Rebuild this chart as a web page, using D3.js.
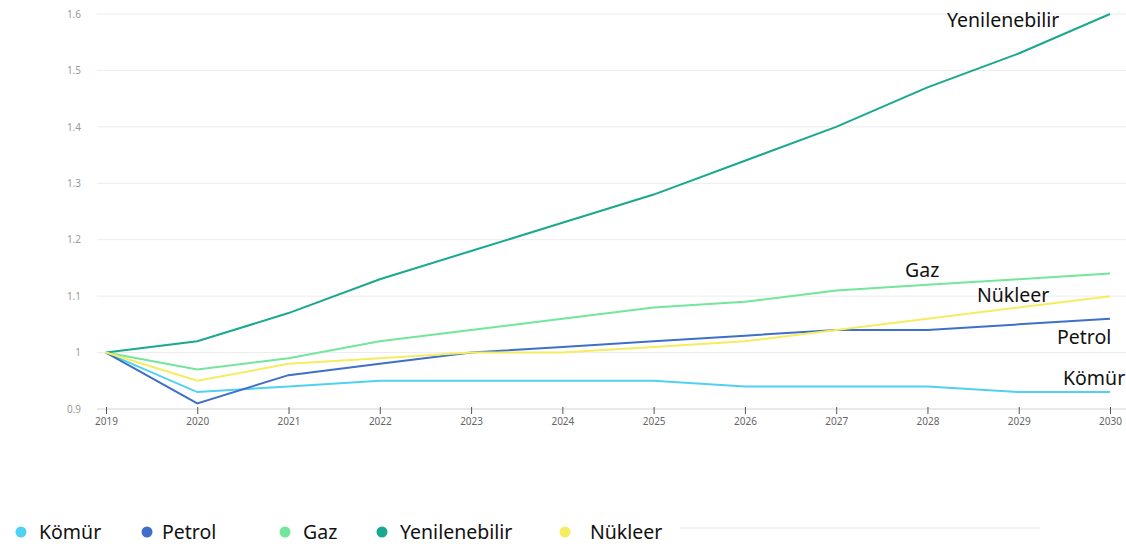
<!DOCTYPE html>
<html>
<head>
<meta charset="utf-8">
<script src="https://cdn.jsdelivr.net/npm/d3@7"></script>
<style>
  body { margin: 0; background: #fff; }
  svg { display: block; font-family: "Noto Sans", sans-serif; }
</style>
</head>
<body>
<div id="chart"></div>
<script>
const years = [2019, 2020, 2021, 2022, 2023, 2024, 2025, 2026, 2027, 2028, 2029, 2030];
const yTicks = [0.9, 1, 1.1, 1.2, 1.3, 1.4, 1.5, 1.6];

const komur = [1.0, 0.93, 0.94, 0.95, 0.95, 0.95, 0.95, 0.94, 0.94, 0.94, 0.93, 0.93];
const petrol = [1.0, 0.91, 0.96, 0.98, 1.0, 1.01, 1.02, 1.03, 1.04, 1.04, 1.05, 1.06];
const gaz = [1.0, 0.97, 0.99, 1.02, 1.04, 1.06, 1.08, 1.09, 1.11, 1.12, 1.13, 1.14];
const yenilenebilir = [1.0, 1.02, 1.07, 1.13, 1.18, 1.23, 1.28, 1.34, 1.40, 1.47, 1.53, 1.60];
const nukleer = [1.0, 0.95, 0.98, 0.99, 1.0, 1.0, 1.01, 1.02, 1.04, 1.06, 1.08, 1.10];

// lab = end label position (left, vertical centre); leg = legend circle x, gap = circle-to-text
const series = [
  { name: "Kömür", values: komur, color: "#4fd1f2", lab: [1063, 378], leg: 21, gap: 18 },
  { name: "Petrol", values: petrol, color: "#3f6fc8", lab: [1057, 337], leg: 147, gap: 15 },
  { name: "Gaz", values: gaz, color: "#72e69a", lab: [905, 270], leg: 285, gap: 18 },
  { name: "Yenilenebilir", values: yenilenebilir, color: "#1aa88e", lab: [947, 20], leg: 382, gap: 18 },
  { name: "Nükleer", values: nukleer, color: "#f6ec5f", lab: [977, 295], leg: 565, gap: 25 }
];

const width = 1126, height = 548;
const svg = d3.select("#chart").append("svg")
  .attr("width", width).attr("height", height);

const x = d3.scaleLinear().domain([2019, 2030]).range([106, 1110]);
const y = d3.scaleLinear().domain([0.9, 1.6]).range([409, 14]);

// grid
svg.append("g")
  .selectAll("line")
  .data(yTicks)
  .join("line")
    .attr("x1", 97).attr("x2", width)
    .attr("y1", d => y(d)).attr("y2", d => y(d))
    .attr("stroke", "#ececec");

// y labels
svg.append("g")
  .attr("transform", "translate(84,0)")
  .call(d3.axisLeft(y).tickValues(yTicks).tickSize(0).tickFormat(d => d3.format("")(d)))
  .call(g => g.select(".domain").remove())
  .call(g => g.selectAll("text").attr("fill", "#999").attr("font-size", 10).attr("font-family", "Noto Sans"));

// x axis
svg.append("g")
  .attr("transform", `translate(0,${y(0.9)})`)
  .call(d3.axisBottom(x).tickValues(years).tickFormat(d3.format("d")).tickSize(6).tickPadding(3))
  .call(g => g.select(".domain").attr("stroke", "#ddd").attr("d", `M97,0H${width}`))
  .call(g => g.selectAll(".tick line").attr("stroke", "#555").attr("y1", -2).attr("y2", 5))
  .call(g => g.selectAll("text").attr("fill", "#666").attr("font-size", 10).attr("font-family", "Noto Sans"));

const line = d3.line()
  .x((d, i) => x(years[i]))
  .y(d => y(d));

svg.append("g")
  .selectAll("path")
  .data(series)
  .join("path")
    .attr("fill", "none")
    .attr("stroke", d => d.color)
    .attr("stroke-width", 2)
    .attr("d", d => line(d.values));

// end labels
svg.append("g")
  .selectAll("text")
  .data(series)
  .join("text")
    .attr("x", d => d.lab[0]).attr("y", d => d.lab[1])
    .attr("dy", "0.35em")
    .attr("font-size", 19.5)
    .attr("fill", "#111")
    .text(d => d.name);

// legend
const legend = svg.append("g").attr("transform", "translate(0,532)");
legend.append("line")
  .attr("x1", 680).attr("x2", 1040).attr("y1", -4).attr("y2", -4)
  .attr("stroke", "#e6e6e6");
const items = legend.selectAll("g").data(series).join("g")
  .attr("transform", d => `translate(${d.leg},0)`);
items.append("circle").attr("r", 5.5).attr("fill", d => d.color);
items.append("text")
  .attr("x", d => d.gap)
  .attr("dy", "0.35em")
  .attr("font-size", 19.5)
  .attr("fill", "#111")
  .text(d => d.name);
</script>
</body>
</html>
